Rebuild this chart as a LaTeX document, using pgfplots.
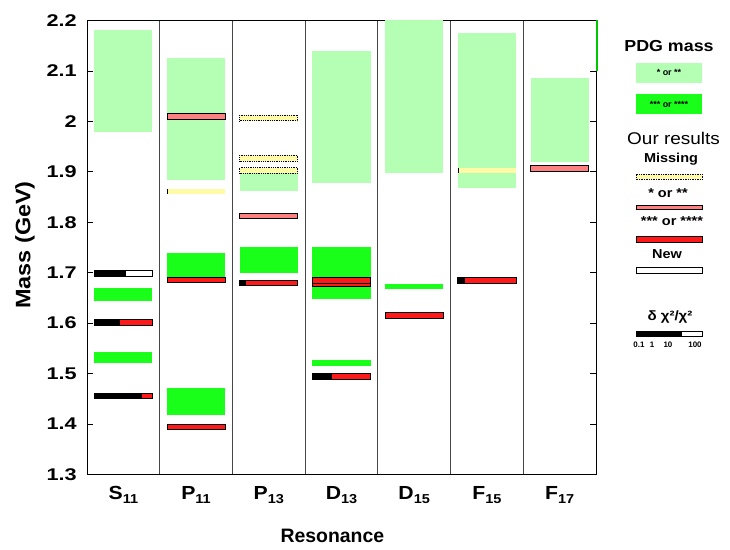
\documentclass[border=0pt]{standalone}
\usepackage{fontspec}
\setmainfont{Liberation Sans}
\newfontfamily\wide{Liberation Sans}[FakeStretch=1.28]
\newfontfamily\wideb{Liberation Sans}[FakeStretch=1.12]
\usepackage{pgfplots}
\pgfplotsset{compat=1.18}
\definecolor{lg}{RGB}{180,255,180}
\definecolor{gg}{RGB}{25,255,25}
\definecolor{pk}{RGB}{255,128,128}
\definecolor{rd}{RGB}{255,25,25}
\definecolor{yl}{RGB}{255,250,165}
\definecolor{divg}{RGB}{70,70,70}
\newcommand\sub[1]{\raisebox{-4bp}{\fontsize{13}{13}\selectfont #1}}
% PDG band: column, low mass, high mass, colour
\newcommand\band[4]{%
  \pgfmathsetmacro\xa{#1+0.1}%
  \pgfmathsetmacro\xb{#1+0.9}%
  \edef\tmp{\noexpand\addplot[fill=#4, draw=none, forget plot] coordinates {(\xa,#2) (\xb,#2) (\xb,#3) (\xa,#3)} -- cycle;}%
  \tmp}
% result bar: column, mass, black fraction, colour, border style
\newcommand\res[5]{%
  \pgfmathsetmacro\xa{#1+0.1}%
  \pgfmathsetmacro\xb{#1+0.9}%
  \pgfmathsetmacro\xc{#1+0.1+0.8*#3}%
  \pgfmathsetmacro\ya{#2-0.0055}%
  \pgfmathsetmacro\yb{#2+0.0055}%
  \edef\tmp{\noexpand\addplot[fill=#4, draw=none, forget plot] coordinates {(\xa,\ya) (\xb,\ya) (\xb,\yb) (\xa,\yb)} -- cycle;}%
  \tmp
  \ifdim #3pt>0pt
  \edef\tmp{\noexpand\addplot[fill=black, draw=none, forget plot] coordinates {(\xa,\ya) (\xc,\ya) (\xc,\yb) (\xa,\yb)} -- cycle;}%
  \tmp
  \fi
  \edef\tmp{\noexpand\addplot[#5, fill=none, forget plot] coordinates {(\xa,\ya) (\xb,\ya) (\xb,\yb) (\xa,\yb)} -- cycle;}%
  \tmp}
\begin{document}
\begin{tikzpicture}
\path[use as bounding box] (0,0) rectangle (730bp,550bp);
\begin{axis}[at={(87bp,75.5bp)}, anchor=south west, scale only axis,
  width=509bp, height=454bp,
  xmin=0, xmax=7, ymin=1.3, ymax=2.2,
  clip mode=individual,
  xtick={0.5,1.5,2.5,3.5,4.5,5.5,6.5},
  xticklabels={S\sub{11},P\sub{11},P\sub{13},D\sub{13},D\sub{15},F\sub{15},F\sub{17}},
  minor xtick={1,2,3,4,5,6}, xminorgrids,
  minor grid style={divg, line width=1.1pt},
  minor x grid style={divg, line width=1.1pt},
  minor tick length=0pt,
  xtick style={draw=none},
  ytick={1.3,1.4,1.5,1.6,1.7,1.8,1.9,2,2.1,2.2},
  ytick pos=both, tick align=inside, major tick length=6bp,
  ytick style={black, line width=0.8pt},
  axis line style={black, line width=0.8pt},
  /pgf/number format/assume math mode=true,
  yticklabel style={font=\wide\bfseries\fontsize{17}{17}\selectfont, inner sep=0pt, anchor=east, xshift=-10bp},
  xticklabel style={font=\wideb\bfseries\fontsize{19}{19}\selectfont, inner sep=0pt, anchor=north, yshift=-11.5bp},
  ylabel={Mass (GeV)},
  ylabel style={font=\wideb\bfseries\fontsize{21}{21}\selectfont, at={(axis description cs:-0.122,0.5055)}, anchor=center},
  xlabel={Resonance},
  xlabel style={font=\bfseries\fontsize{19.5}{19.5}\selectfont, at={(axis description cs:0.482,-0.1355)}, anchor=center},
]
% PDG masses
\band{0}{1.978}{2.181}{lg}
\band{0}{1.644}{1.669}{gg}
\band{0}{1.521}{1.542}{gg}
\band{1}{1.884}{2.126}{lg}
\band{1}{1.679}{1.740}{gg}
\band{1}{1.418}{1.471}{gg}
\band{2}{1.862}{1.900}{lg}
\band{2}{1.699}{1.750}{gg}
\band{3}{1.878}{2.140}{lg}
\band{3}{1.648}{1.750}{gg}
\band{3}{1.515}{1.526}{gg}
\band{4}{1.898}{2.200}{lg}
\band{4}{1.668}{1.678}{gg}
\band{5}{1.868}{2.175}{lg}
\band{6}{1.920}{2.087}{lg}
% our results
\res{0}{1.699}{0.54}{white}{draw=black, line width=0.8pt}
\res{0}{1.601}{0.44}{rd}{draw=black, line width=0.8pt}
\res{0}{1.456}{0.82}{rd}{draw=black, line width=0.8pt}
\res{1}{2.010}{0}{pk}{draw=black, line width=0.8pt}
\res{1}{1.861}{0.02}{yl}{draw=none}
\res{1}{1.686}{0}{rd}{draw=black, line width=0.8pt}
\res{1}{1.394}{0}{rd}{draw=black, line width=0.8pt}
\res{2}{2.007}{0}{yl}{draw=black, densely dotted, line width=0.8pt}
\res{2}{1.927}{0}{yl}{draw=black, densely dotted, line width=0.8pt}
\res{2}{1.903}{0}{yl}{draw=black, densely dotted, line width=0.8pt}
\res{2}{1.813}{0}{pk}{draw=black, line width=0.8pt}
\res{2}{1.680}{0.1}{rd}{draw=black, line width=0.8pt}
\res{3}{1.678}{0}{rd}{draw=black, line width=0.8pt}
\res{3}{1.685}{0}{rd}{draw=black, line width=0.8pt}
\res{3}{1.495}{0.33}{rd}{draw=black, line width=0.8pt}
\res{4}{1.615}{0}{rd}{draw=black, line width=0.8pt}
\res{5}{1.903}{0.02}{yl}{draw=none}
\res{5}{1.685}{0.13}{rd}{draw=black, line width=0.8pt}
\res{6}{1.907}{0}{pk}{draw=black, line width=0.8pt}
\addplot[color={rgb,255:red,0;green,200;blue,0}, line width=1.6pt, forget plot, clip=false, xshift=1.2bp] coordinates {(7,2.1) (7,2.2)};
\end{axis}
\begin{scope}[x=1bp,y=1bp]
\node[font=\wideb\bfseries\fontsize{16}{16}\selectfont] at (669,504) {PDG mass};
\fill[lg] (636,467.3) rectangle (702,487.3);
\node[font=\bfseries\fontsize{9}{9}\selectfont] at (669,477.3) {* or **};
\fill[gg] (636,435.7) rectangle (702,456);
\node[font=\bfseries\fontsize{9}{9}\selectfont] at (669,445.8) {*** or ****};
\node[font=\wideb\fontsize{17}{17}\selectfont, anchor=west, inner sep=0pt] at (627,412) {Our results};
\node[font=\wideb\bfseries\fontsize{13}{13}\selectfont] at (671,391) {Missing};
\filldraw[fill=yl, draw=black, densely dotted, line width=0.7pt] (636,370.7) rectangle (702,376);
\node[font=\wideb\bfseries\fontsize{13}{13}\selectfont] at (668,357) {* or **};
\filldraw[fill=pk, draw=black, line width=0.8pt] (636,340.3) rectangle (702,345);
\node[font=\wideb\bfseries\fontsize{13}{13}\selectfont] at (672,329) {*** or ****};
\filldraw[fill=rd, draw=black, line width=0.8pt] (636,308) rectangle (702,313.3);
\node[font=\wideb\bfseries\fontsize{13}{13}\selectfont] at (667,295.5) {New};
\filldraw[fill=white, draw=black, line width=0.8pt] (636,276.3) rectangle (702,282.3);
\node[font=\wideb\bfseries\fontsize{13.5}{13.5}\selectfont] at (670,232.5) {δ χ²/χ²};
\fill[black] (636,213.3) rectangle (681.7,218.3);
\draw[black, line width=0.8pt] (636,213.3) rectangle (702,218.3);
\node[font=\bfseries\fontsize{8}{8}\selectfont] at (639,205.3) {0.1};
\node[font=\bfseries\fontsize{8}{8}\selectfont] at (652,205.3) {1};
\node[font=\bfseries\fontsize{8}{8}\selectfont] at (668,205.3) {10};
\node[font=\bfseries\fontsize{8}{8}\selectfont] at (695,205.3) {100};
\end{scope}
\end{tikzpicture}
\end{document}
